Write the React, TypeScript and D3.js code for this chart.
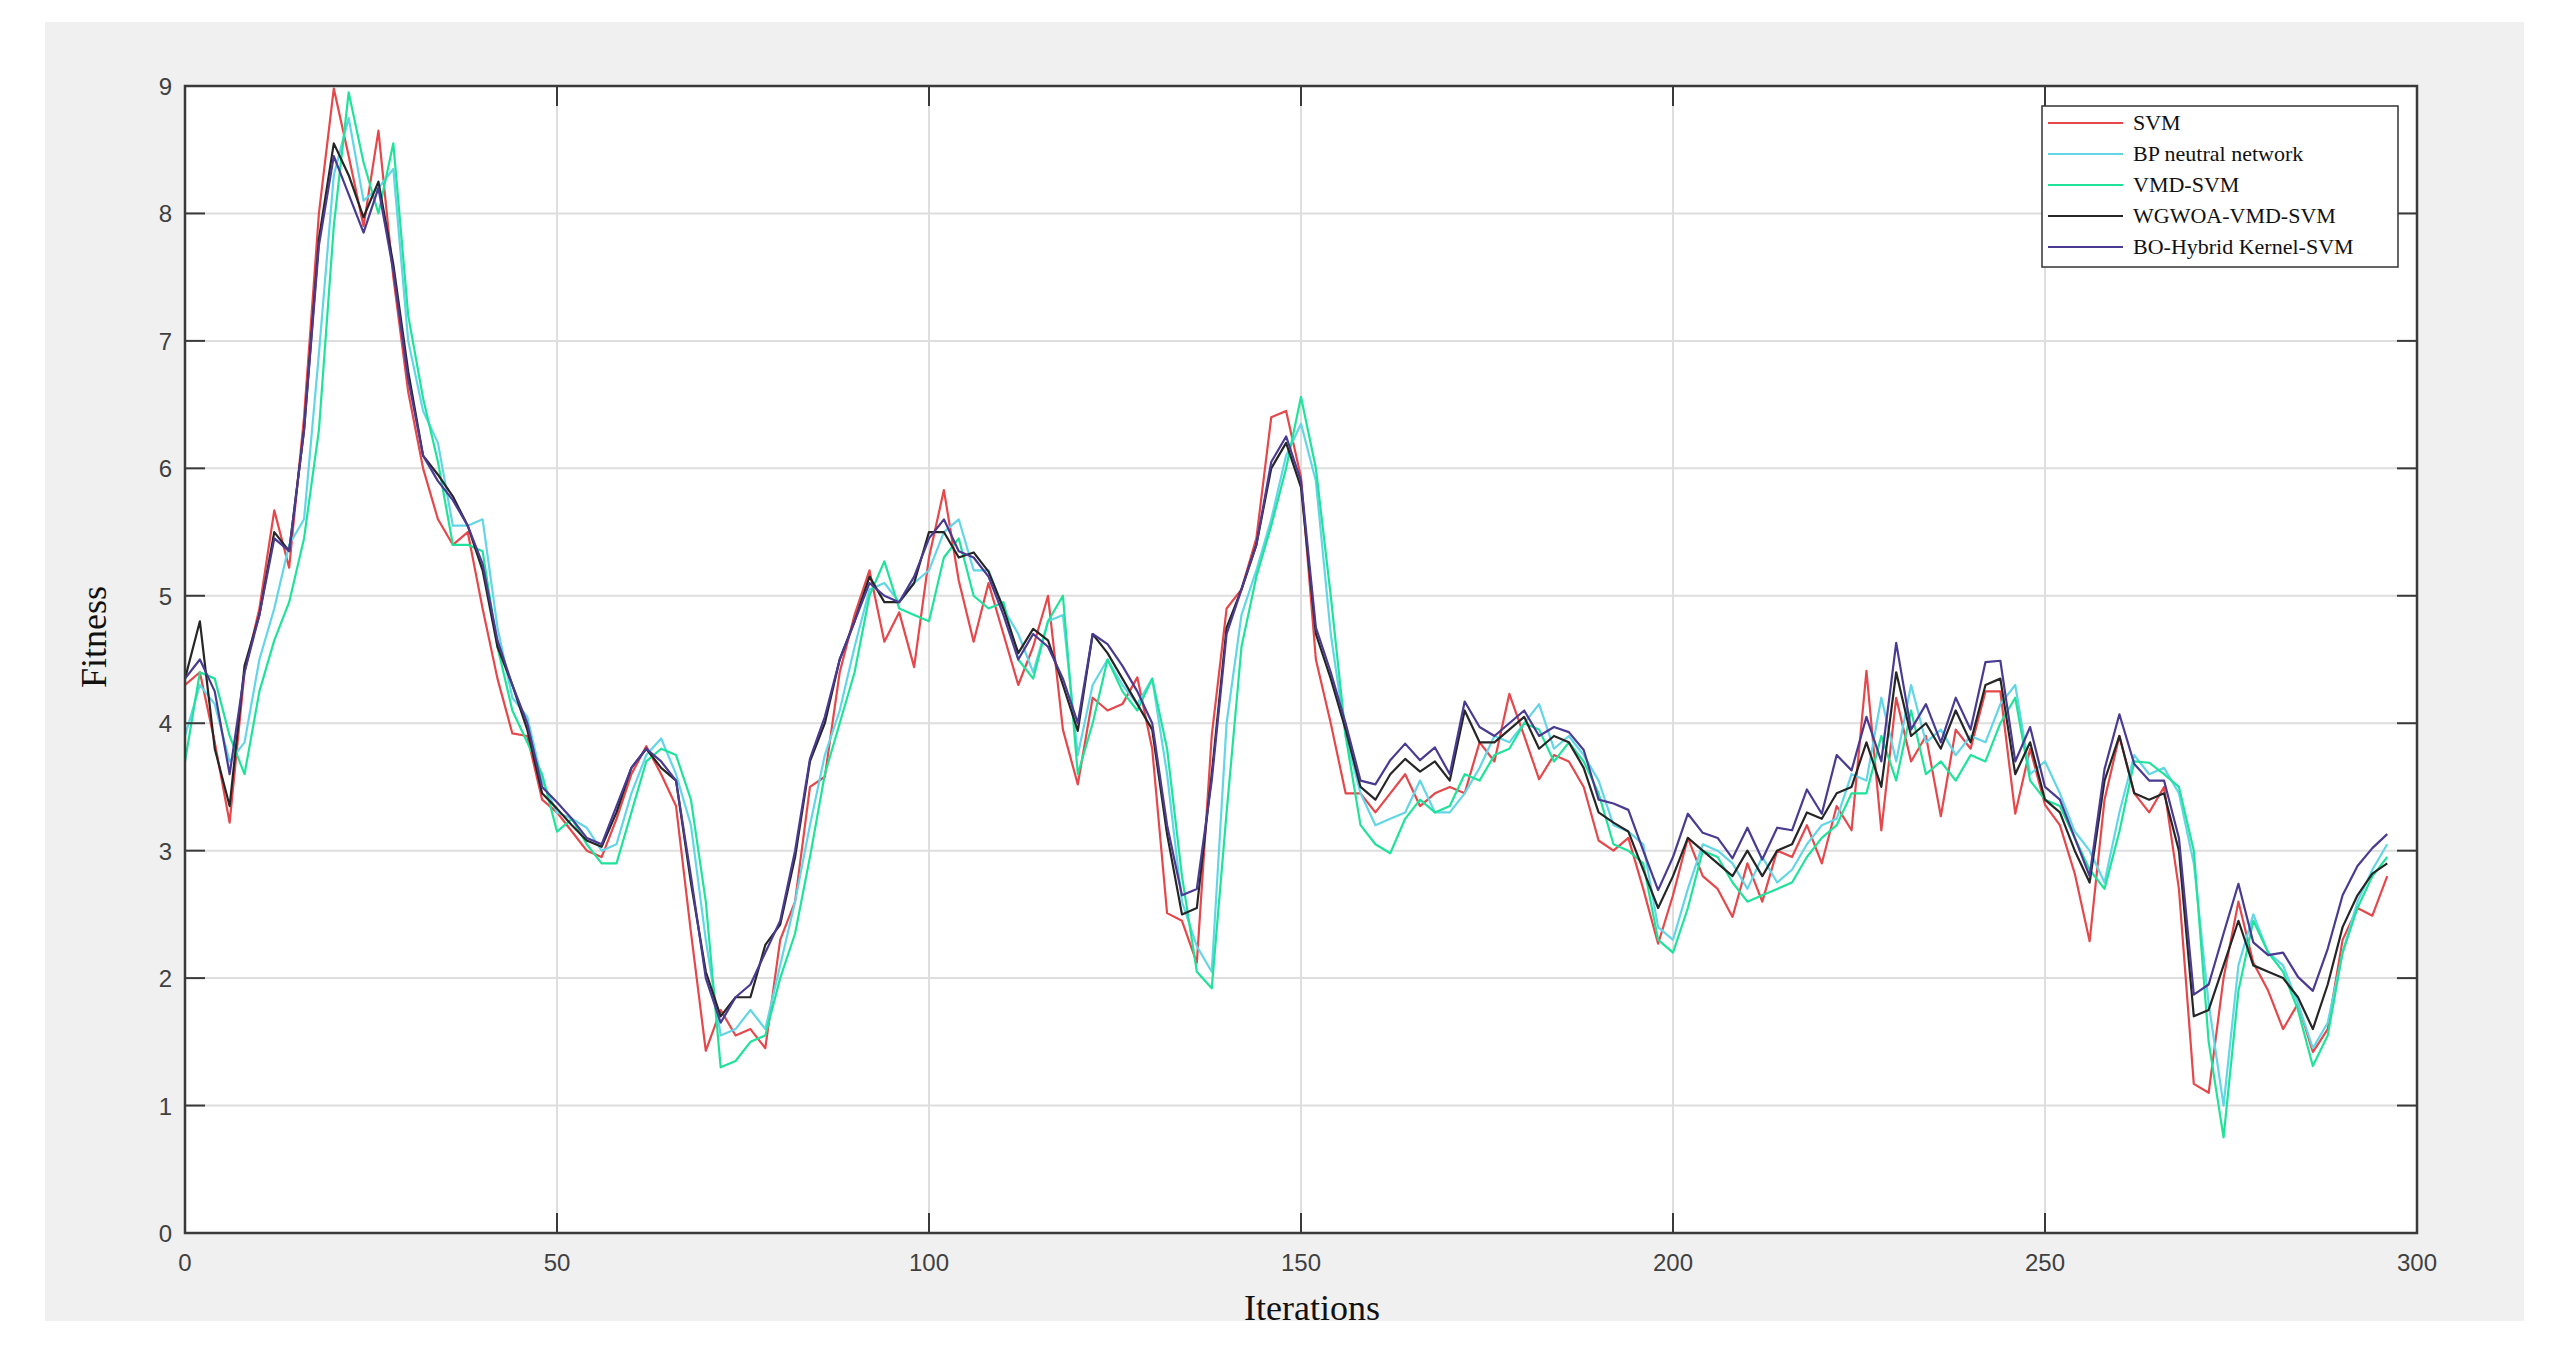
import React from "react";
import * as d3 from "d3";

// Iterations sampled every 2 steps (0..296)
const iterations: number[] = d3.range(0, 297, 2);

const svm: number[] = [
  4.3, 4.4, 3.85, 3.22, 4.4, 4.9, 5.67, 5.22, 6.4, 8.0,
  8.98, 8.45, 7.9, 8.65, 7.5, 6.6, 6.0, 5.6, 5.4, 5.5,
  4.9, 4.35, 3.92, 3.9, 3.4, 3.3, 3.15, 3.0, 2.95, 3.25,
  3.6, 3.82, 3.6, 3.35, 2.36, 1.43, 1.75, 1.55, 1.6, 1.45,
  2.3, 2.6, 3.5, 3.58, 4.4, 4.85, 5.2, 4.64, 4.87, 4.44,
  5.3, 5.83, 5.12, 4.64, 5.1, 4.7, 4.3, 4.6, 5.0, 3.95,
  3.52, 4.2, 4.1, 4.15, 4.36, 3.8, 2.51, 2.45, 2.12, 3.9,
  4.9, 5.05, 5.45, 6.4, 6.45, 5.93, 4.5, 4.0, 3.45, 3.45,
  3.3, 3.45, 3.6, 3.35, 3.45, 3.5, 3.45, 3.85, 3.7, 4.23,
  3.9, 3.56, 3.75, 3.7, 3.5, 3.08, 3.0, 3.1, 2.7, 2.27,
  2.65, 3.1, 2.8, 2.7, 2.48, 2.9, 2.6, 3.0, 2.95, 3.2,
  2.9, 3.35, 3.16, 4.41, 3.16, 4.2, 3.7, 3.9, 3.27, 3.95,
  3.8, 4.25, 4.25, 3.29, 3.8, 3.36, 3.2, 2.82, 2.29, 3.4,
  3.9, 3.45, 3.3, 3.5, 2.7, 1.17, 1.1, 2.0, 2.6, 2.12,
  1.9, 1.6, 1.8, 1.42, 1.6, 2.3, 2.55, 2.49, 2.8,
];

const bp: number[] = [
  3.9, 4.3, 4.15, 3.7, 3.85, 4.5, 4.9, 5.4, 5.6, 6.9,
  8.3, 8.75, 8.1, 8.2, 8.35, 7.0, 6.45, 6.2, 5.55, 5.55,
  5.6, 4.75, 4.2, 4.05, 3.55, 3.3, 3.25, 3.18, 3.0, 3.05,
  3.45, 3.75, 3.88, 3.6, 3.2, 2.3, 1.55, 1.6, 1.75, 1.6,
  2.1, 2.6, 3.2, 3.75, 4.1, 4.6, 5.05, 5.1, 4.95, 5.1,
  5.2, 5.5, 5.6, 5.2, 5.2, 4.9, 4.7, 4.4, 4.8, 4.85,
  3.75, 4.3, 4.5, 4.3, 4.15, 4.35, 3.6, 2.6, 2.25, 2.05,
  4.0, 4.85, 5.2, 5.6, 6.1, 6.35, 5.9, 4.7, 3.9, 3.45,
  3.2, 3.25, 3.3, 3.55, 3.3, 3.3, 3.45, 3.65, 3.9, 3.85,
  4.0, 4.15, 3.8, 3.9, 3.75, 3.55, 3.2, 3.15, 3.05, 2.4,
  2.3, 2.7, 3.05, 3.0, 2.9, 2.7, 2.95, 2.75, 2.85, 3.05,
  3.2, 3.25, 3.6, 3.55, 4.2, 3.7, 4.3, 3.85, 3.95, 3.75,
  3.9, 3.85, 4.15, 4.3, 3.6, 3.7, 3.45, 3.15, 3.0, 2.75,
  3.3, 3.75, 3.6, 3.65, 3.45, 2.9, 1.8, 1.0, 2.1, 2.5,
  2.2, 2.1, 1.8, 1.45, 1.65, 2.2, 2.6, 2.85, 3.05,
];

const vmd: number[] = [
  3.7, 4.4, 4.35, 3.9, 3.6, 4.25, 4.65, 4.95, 5.45, 6.3,
  7.9, 8.95, 8.4, 8.0, 8.55, 7.2, 6.55, 6.05, 5.4, 5.4,
  5.35, 4.6, 4.1, 3.85, 3.6, 3.15, 3.25, 3.05, 2.9, 2.9,
  3.3, 3.7, 3.8, 3.75, 3.4, 2.6, 1.3, 1.35, 1.5, 1.55,
  2.0, 2.35, 2.95, 3.6, 4.0, 4.4, 5.0, 5.27, 4.9, 4.85,
  4.8, 5.3, 5.45, 5.0, 4.9, 4.95, 4.5, 4.35, 4.8, 5.0,
  3.6, 4.0, 4.5, 4.25, 4.1, 4.35, 3.8, 2.8, 2.05, 1.92,
  3.3, 4.6, 5.15, 5.55, 6.0, 6.56, 6.0, 5.0, 3.9, 3.2,
  3.05, 2.98, 3.25, 3.4, 3.3, 3.35, 3.6, 3.55, 3.75, 3.8,
  4.0, 3.95, 3.7, 3.85, 3.7, 3.45, 3.05, 3.0, 2.9, 2.3,
  2.2, 2.55, 3.0, 2.95, 2.75, 2.6, 2.65, 2.7, 2.75, 2.95,
  3.1, 3.2, 3.45, 3.45, 3.9, 3.55, 4.1, 3.6, 3.7, 3.55,
  3.75, 3.7, 4.0, 4.2, 3.55, 3.4, 3.35, 3.1, 2.85, 2.7,
  3.15, 3.7, 3.69, 3.6, 3.5, 3.0, 1.5, 0.75, 1.9, 2.45,
  2.2, 2.05, 1.75, 1.31, 1.55, 2.2, 2.55, 2.8, 2.95,
];

const wgwoa: number[] = [
  4.35, 4.8, 3.8, 3.35, 4.45, 4.85, 5.5, 5.35, 6.3, 7.8,
  8.55, 8.3, 7.97, 8.25, 7.6, 6.76, 6.1, 5.95, 5.78, 5.55,
  5.2, 4.6, 4.3, 3.95, 3.45, 3.33, 3.2, 3.08, 3.03, 3.3,
  3.65, 3.8, 3.65, 3.55, 2.75, 2.05, 1.7, 1.85, 1.85, 2.26,
  2.42, 2.95, 3.7, 4.0, 4.5, 4.8, 5.15, 4.95, 4.95, 5.1,
  5.5, 5.5, 5.3, 5.34, 5.19, 4.9, 4.55, 4.74, 4.65, 4.3,
  3.94, 4.7, 4.55, 4.35, 4.15, 3.95, 3.13, 2.5, 2.55, 3.6,
  4.75, 5.05, 5.4, 6.0, 6.2, 5.85, 4.7, 4.35, 3.95, 3.5,
  3.4, 3.6, 3.72, 3.62, 3.7, 3.55, 4.1, 3.85, 3.85, 3.95,
  4.05, 3.8, 3.9, 3.85, 3.65, 3.3, 3.22, 3.15, 2.85, 2.55,
  2.8, 3.1, 3.0, 2.9, 2.8, 3.0, 2.8, 3.0, 3.05, 3.3,
  3.25, 3.45, 3.5, 3.85, 3.5, 4.4, 3.9, 4.0, 3.8, 4.1,
  3.85, 4.3, 4.35, 3.6, 3.85, 3.4, 3.3, 3.0, 2.75, 3.55,
  3.9, 3.45, 3.4, 3.45, 3.0, 1.7, 1.75, 2.1, 2.45, 2.1,
  2.05, 2.0, 1.85, 1.6, 1.95, 2.4, 2.65, 2.82, 2.9,
];

const boHybrid: number[] = [
  4.35, 4.5, 4.25, 3.6, 4.4, 4.85, 5.45, 5.35, 6.3, 7.75,
  8.45, 8.15, 7.85, 8.2, 7.55, 6.7, 6.1, 5.9, 5.75, 5.55,
  5.25, 4.65, 4.3, 4.0, 3.5, 3.38, 3.25, 3.1, 3.05, 3.35,
  3.65, 3.8, 3.7, 3.55, 2.8, 2.0, 1.65, 1.85, 1.95, 2.2,
  2.45, 3.0, 3.72, 4.05, 4.5, 4.8, 5.1, 5.0, 4.95, 5.15,
  5.45, 5.6, 5.35, 5.3, 5.15, 4.85, 4.5, 4.7, 4.6, 4.35,
  4.0, 4.7, 4.62, 4.45, 4.25, 4.0, 3.2, 2.65, 2.7, 3.55,
  4.7, 5.05, 5.4, 6.05, 6.25, 5.9, 4.75, 4.4, 4.0, 3.55,
  3.52, 3.71, 3.84, 3.71, 3.81, 3.6, 4.17, 3.97, 3.9, 4.0,
  4.1, 3.9, 3.97, 3.93, 3.79, 3.4, 3.37, 3.32, 3.0, 2.69,
  2.95, 3.29, 3.14, 3.1, 2.94, 3.18, 2.93, 3.18, 3.16, 3.48,
  3.29, 3.75, 3.63, 4.05, 3.7, 4.63, 3.95, 4.15, 3.85, 4.2,
  3.95, 4.48, 4.49, 3.7, 3.97, 3.5, 3.4, 3.1, 2.8, 3.64,
  4.07, 3.68, 3.55, 3.55, 3.1, 1.87, 1.95, 2.35, 2.74, 2.28,
  2.18, 2.2, 2.01, 1.9, 2.23, 2.65, 2.88, 3.02, 3.13,
];

const seriesNames: string[] = [
  "SVM",
  "BP neutral network",
  "VMD-SVM",
  "WGWOA-VMD-SVM",
  "BO-Hybrid Kernel-SVM",
];
const seriesColors: string[] = ["#e5474b", "#62d6e6", "#1fe39a", "#262626", "#4a3a92"];
const seriesValues: number[][] = [svm, bp, vmd, wgwoa, boHybrid];

const xTicks: number[] = [0, 50, 100, 150, 200, 250, 300];
const yTicks: number[] = [0, 1, 2, 3, 4, 5, 6, 7, 8, 9];

export default function App() {
  const W = 2557;
  const H = 1348;
  const left = 185, right = 2417, top = 86, bottom = 1233;
  const x = d3.scaleLinear().domain([0, 300]).range([left, right]);
  const y = d3.scaleLinear().domain([0, 9]).range([bottom, top]);
  const line = d3
    .line<number>()
    .x((_, i) => x(iterations[i]))
    .y((d) => y(d));

  const tickLen = 20;
  const axisColor = "#3a3a3a";
  const gridColor = "#dedede";
  const tickFont = "'Liberation Sans', Arial, sans-serif";
  const serif = "'Liberation Serif', 'Times New Roman', serif";

  const legX = 2042, legY = 106, legW = 356, legH = 161;
  const rowY0 = 123, rowStep = 31;

  return (
    <div style={{ position: "absolute", left: 0, top: 0 }}>
      <svg width={W} height={H} style={{ display: "block", background: "#ffffff" }}>
        <rect x={45} y={22} width={2479} height={1299} fill="#f0f0f0" />
        <rect x={left} y={top} width={right - left} height={bottom - top} fill="#ffffff" />
        {/* grid */}
        {xTicks.map((t) => (
          <line key={"gx" + t} x1={x(t)} x2={x(t)} y1={top} y2={bottom} stroke={gridColor} strokeWidth={2} />
        ))}
        {yTicks.map((t) => (
          <line key={"gy" + t} x1={left} x2={right} y1={y(t)} y2={y(t)} stroke={gridColor} strokeWidth={2} />
        ))}
        {/* series */}
        <defs>
          <clipPath id="plotclip">
            <rect x={left} y={top} width={right - left} height={bottom - top} />
          </clipPath>
        </defs>
        <g clipPath="url(#plotclip)">
          {seriesValues.map((vals, k) => (
            <path
              key={seriesNames[k]}
              d={line(vals) || ""}
              fill="none"
              stroke={seriesColors[k]}
              strokeWidth={2.2}
              strokeLinejoin="round"
            />
          ))}
        </g>
        {/* ticks */}
        {xTicks.map((t) => (
          <g key={"tx" + t}>
            <line x1={x(t)} x2={x(t)} y1={bottom} y2={bottom - tickLen} stroke={axisColor} strokeWidth={2} />
            <line x1={x(t)} x2={x(t)} y1={top} y2={top + tickLen} stroke={axisColor} strokeWidth={2} />
            <text
              x={x(t)}
              y={1271}
              textAnchor="middle"
              fontFamily={tickFont}
              fontSize={24}
              fill="#404040"
            >
              {t}
            </text>
          </g>
        ))}
        {yTicks.map((t) => (
          <g key={"ty" + t}>
            <line x1={left} x2={left + tickLen} y1={y(t)} y2={y(t)} stroke={axisColor} strokeWidth={2} />
            <line x1={right} x2={right - tickLen} y1={y(t)} y2={y(t)} stroke={axisColor} strokeWidth={2} />
            <text
              x={172}
              y={y(t) + 9}
              textAnchor="end"
              fontFamily={tickFont}
              fontSize={24}
              fill="#404040"
            >
              {t}
            </text>
          </g>
        ))}
        {/* box */}
        <rect
          x={left}
          y={top}
          width={right - left}
          height={bottom - top}
          fill="none"
          stroke={axisColor}
          strokeWidth={2.5}
        />
        {/* legend */}
        <rect x={legX} y={legY} width={legW} height={legH} fill="#ffffff" stroke="#333333" strokeWidth={1.5} />
        {seriesNames.map((name, k) => (
          <g key={"leg" + k}>
            <line
              x1={2048}
              x2={2123}
              y1={rowY0 + k * rowStep}
              y2={rowY0 + k * rowStep}
              stroke={seriesColors[k]}
              strokeWidth={2.2}
            />
            <text x={2133} y={rowY0 + k * rowStep + 7} fontFamily={serif} fontSize={22} fill="#111111">
              {name}
            </text>
          </g>
        ))}
        {/* axis labels */}
        <text
          transform="translate(106,637) rotate(-90)"
          textAnchor="middle"
          fontFamily={serif}
          fontSize={36}
          fill="#111111"
        >
          Fitness
        </text>
        <text x={1312} y={1320} textAnchor="middle" fontFamily={serif} fontSize={36} fill="#111111">
          Iterations
        </text>
      </svg>
    </div>
  );
}
